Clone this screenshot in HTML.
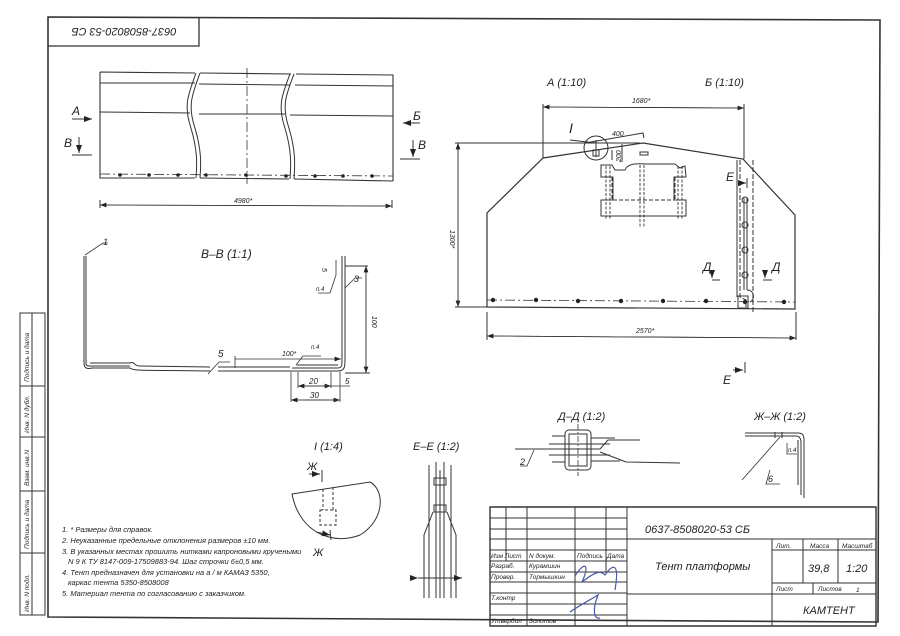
<!DOCTYPE html>
<html><head><meta charset="utf-8"><style>
html,body{margin:0;padding:0;background:#fff;}
svg{display:block;}
text{font-family:"Liberation Sans","Noto Sans CJK SC",sans-serif;font-style:italic;fill:#222;}
</style></head><body>
<svg width="900" height="636" viewBox="0 0 900 636" xmlns="http://www.w3.org/2000/svg">
<defs>
<marker id="ar" markerWidth="8" markerHeight="6" refX="8" refY="3" orient="auto"><path d="M0,0 L8,3 L0,6 z" fill="#222"/></marker>
</defs>
<g stroke="#333" fill="none" stroke-width="1">
<path d="M48,17 L880,20 L878,622 L48,617 Z" stroke-width="1.6"/>
<path d="M48,46 L199,46 L199,17" stroke-width="1.3"/>
<path d="M20,313 L45,313 L45,615 L20,615 Z M32,313 L32,615 M20,386 L45,386 M20,437 L45,437 M20,491 L45,491 M20,553 L45,553" stroke-width="1"/>

<path d="M100,72 L195,73 M200,73 L291,74 M296,74 L393,75 L393,181 M100,72 L100,178 L195,178 M200,178 L289,179 M294,179 L393,181" stroke-width="1.1"/>
<path d="M100,83 L195,83 M199,84 L290,85 M295,85 L393,86 M100,112 L190,113 M199,114 L285,114 M290,115 L393,116"/>
<path d="M196,73 C188,95 184,105 190,125 C198,150 197,165 196,178 M200,73 C192,95 188,105 194,125 C202,150 201,165 200,178" />
<path d="M290,74 C282,95 278,105 284,125 C292,150 291,165 290,179 M294,74 C286,95 282,105 288,125 C296,150 295,165 294,179" />
<path d="M247,68 L247,184" stroke-dasharray="10,3,2,3" stroke-width="0.8"/>
<path d="M100,174 L393,176" stroke-dasharray="10,3,2,3" stroke-width="0.8"/>
<path d="M100,200 L100,208 M392,200 L392,208"/>
<path d="M100,205 L392,206" stroke-width="0.8" marker-end="url(#ar)"/>
<path d="M392,206 L100,205" stroke-width="0.8" marker-end="url(#ar)"/>
<path d="M72,119 L92,119" marker-end="url(#ar)"/>
<path d="M79,137 L79,153" marker-end="url(#ar)"/>
<path d="M72,155 L92,155"/>
<path d="M420,123 L403,123" marker-end="url(#ar)"/>
<path d="M413,140 L413,157" marker-end="url(#ar)"/>
<path d="M400,159 L420,159"/>

<path d="M487,307 L487,213 L543,158 L643,143 L743,159 L795,215 L795,309 Z" stroke-width="1.2"/>
<path d="M543,158 L543,104 M744,159 L744,104"/>
<path d="M543,107 L744,108" stroke-width="0.8" marker-end="url(#ar)"/>
<path d="M744,108 L543,107" stroke-width="0.8" marker-end="url(#ar)"/>
<path d="M487,312 L487,340 M796,312 L796,340"/>
<path d="M487,336 L796,338" stroke-width="0.8" marker-end="url(#ar)"/>
<path d="M796,338 L487,336" stroke-width="0.8" marker-end="url(#ar)"/>
<path d="M455,143 L640,143 M455,307 L487,307"/>
<path d="M458,143 L458,307" stroke-width="0.8" marker-end="url(#ar)"/>
<path d="M458,307 L458,143" stroke-width="0.8" marker-end="url(#ar)"/>
<path d="M487,300 L795,302" stroke-dasharray="10,3,2,3" stroke-width="0.8"/>
<circle cx="596" cy="148" r="12"/>
<path d="M596,140 L596,157 M593,150 L599,150 L599,156 L593,156 Z"/>
<path d="M570,140 L596,143 M585,143 L643,133 L644,138"/>
<path d="M622,144 L622,162 M612,150 L612,160"/>
<path d="M601,165 L612,165 L615,170 L625,170 C628,162 640,164 648,164 L675,164 L680,168 L685,166 L686,177 L674,177 L674,200 L686,200 L686,216 L601,216 L601,200 L613,200 L613,177 L601,177 Z"/>
<path d="M613,200 L674,200 M612,177 L612,200 M675,177 L675,200" stroke-dasharray="4,2"/>
<path d="M606,166 L606,220 M610,166 L610,220 M640,165 L640,228 M644,165 L644,228 M678,166 L678,220 M682,166 L682,220" stroke-dasharray="3,1.5" stroke-width="0.9"/>
<path d="M640,152 L648,152 L648,155 L640,155 Z"/>
<path d="M740,160 L740,297 L746,300 L746,307 M753,160 L753,312" stroke-dasharray="5,2"/>
<path d="M737,160 L737,297"/>
<path d="M744,198 L744,290 M747,198 L747,290"/>
<circle cx="745" cy="200" r="3"/><circle cx="745" cy="225" r="3"/><circle cx="745" cy="250" r="3"/><circle cx="745" cy="275" r="3"/>
<path d="M747,290 C755,290 755,300 750,302"/>
<path d="M738,296 L748,296 L748,308 L738,308 Z"/>
<path d="M738,183 L746,183" marker-end="url(#ar)"/>
<path d="M747,178 L747,188"/>
<path d="M712,270 L712,278" marker-end="url(#ar)"/>
<path d="M712,280 L720,280 M763,280 L772,280"/>
<path d="M765,270 L765,278" marker-end="url(#ar)"/>
<path d="M733,370 L743,370" marker-end="url(#ar)"/>
<path d="M745,362 L745,373"/>

<path d="M84,256 L84,363 C84,369 88,369 92,368 L130,368 C133,371 140,370 210,371 M86,256 L86,364 C86,366 88,366 92,366 L130,366 M90,363 L130,363 C135,361 133,366 140,366 L210,367"/>
<path d="M218,371 L296,371 M218,367 L290,367"/>
<path d="M292,368 L338,368 C342,368 342,365 342,360 L342,256 M292,371 L338,371 C345,371 345,366 345,360 L345,256 M297,365 L338,365"/>
<path d="M85,255 L103,243 L108,243" stroke-width="0.8"/>
<path d="M345,288 L355,278 L362,278" stroke-width="0.8"/>
<path d="M208,374 L219,362 L230,362" stroke-width="0.8"/>
<path d="M296,365 L303,356 L321,356" stroke-width="0.8"/>
<path d="M336,275 L330,293 L318,293 M336,260 L336,275" stroke-width="0.8"/>
<path d="M345,266 L368,266 M345,373 L370,373"/>
<path d="M366,266 L366,373" stroke-width="0.8" marker-end="url(#ar)"/>
<path d="M366,373 L366,266" stroke-width="0.8" marker-end="url(#ar)"/>
<path d="M235,368 L235,356 M235,359 L341,359" stroke-width="0.8" marker-end="url(#ar)"/>
<path d="M298,372 L298,388 M291,372 L291,402 M331,372 L331,388 M340,372 L340,402" stroke-width="0.8"/>
<path d="M298,386 L331,386" stroke-width="0.8" marker-end="url(#ar)"/>
<path d="M331,386 L298,386" stroke-width="0.8" marker-end="url(#ar)"/>
<path d="M291,400 L340,400" stroke-width="0.8" marker-end="url(#ar)"/>
<path d="M340,400 L291,400" stroke-width="0.8" marker-end="url(#ar)"/>
<path d="M331,386 L350,386" stroke-width="0.8"/>

<path d="M292,494 L370,482 C385,490 385,520 360,535 C335,545 300,535 292,494 Z"/>
<path d="M323,489 L323,510 M333,487 L333,510 M320,510 L336,510 L336,525 L320,525 Z" stroke-dasharray="3,2"/>
<path d="M309,474 L320,474" marker-end="url(#ar)"/>
<path d="M322,470 L322,482 M330,530 L331,540"/>
<path d="M316,532 L330,535" marker-end="url(#ar)"/>

<path d="M429,465 L429,598 M451,465 L451,598 M436,462 L436,598 M444,462 L444,598 M440,470 L440,598"/>
<path d="M434,478 L446,478 L446,485 L434,485 Z M434,505 L446,505 L446,512 L434,512 Z"/>
<path d="M433,512 L424,535 L424,598 M447,512 L456,535 L456,598"/>
<path d="M418,578 L462,578" marker-start="url(#ar)" marker-end="url(#ar)"/>

<path d="M515,449 L600,449 L608,440 L640,440 M600,452 L626,462 L680,463"/>
<rect x="565" y="430" width="26" height="40" rx="4"/>
<rect x="569" y="434" width="18" height="32"/>
<path d="M549,444 L610,444 M549,455 L610,455 M552,436 L565,436 M552,462 L565,462 M591,438 L615,438 M591,461 L620,461"/>
<path d="M578,424 L578,476" stroke-dasharray="6,2,2,2" stroke-width="0.8"/>
<path d="M534,450 L527,466 L520,466" stroke-width="0.8"/>
<path d="M745,433 L798,433 C803,433 804,436 804,440 L804,498 M745,436 L796,436 C800,436 801,439 801,443 L801,495 M798,440 L798,485 M775,432 L775,438 M782,432 L782,438"/>
<path d="M742,480 L780,437 M770,470 L766,484 L780,484 M787,443 L787,454 L797,454" stroke-width="0.8"/>

<path d="M490,507 L876,507 L876,626 L490,626 Z" stroke-width="1.4"/>
<path d="M490,539 L876,539 M627,507 L627,626 M772,539 L772,626 M490,518 L627,518 M490,529 L627,529 M490,550 L627,550 M490,561 L627,561 M490,572 L627,572 M490,582 L627,582 M490,593 L627,593 M490,604 L627,604 M490,615 L627,615 M772,550 L876,550 M772,583 L876,583 M627,594 L876,594 M803,539 L803,583 M838,539 L838,583 M813,583 L813,594" stroke-width="1"/>
<path d="M506,507 L506,561 M527,507 L527,626 M575,507 L575,626 M606,507 L606,572" stroke-width="1"/>
</g>
<g fill="#222">
<circle cx="120" cy="175" r="1.8"/><circle cx="149" cy="175" r="1.8"/><circle cx="178" cy="175" r="1.8"/><circle cx="206" cy="175" r="1.8"/><circle cx="246" cy="175" r="1.8"/><circle cx="286" cy="176" r="1.8"/><circle cx="315" cy="176" r="1.8"/><circle cx="343" cy="176" r="1.8"/><circle cx="372" cy="176" r="1.8"/>
<circle cx="493" cy="300" r="2.2"/><circle cx="536" cy="300" r="2.2"/><circle cx="578" cy="301" r="2.2"/><circle cx="621" cy="301" r="2.2"/><circle cx="663" cy="301" r="2.2"/><circle cx="706" cy="301" r="2.2"/><circle cx="745" cy="302" r="2.2"/><circle cx="784" cy="302" r="2.2"/>
</g>
<g stroke="#4a5aa8" fill="none" stroke-width="1.2">
<path d="M575,576 C585,560 590,565 582,582 C595,572 600,570 605,575 C612,565 620,560 615,590"/>
<path d="M570,612 C580,605 590,600 598,595 C592,610 594,620 600,618"/>
</g>

<g font-size="10">
<text x="124" y="36" text-anchor="middle" transform="rotate(180 124 32)" font-size="11">0637-8508020-53 СБ</text>
<text x="72" y="115" font-size="12">А</text>
<text x="64" y="147" font-size="12">В</text>
<text x="413" y="120" font-size="12">Б</text>
<text x="418" y="149" font-size="12">В</text>
<text x="234" y="203" font-size="7">4980*</text>
<text x="547" y="86" font-size="11">А (1:10)</text>
<text x="705" y="86" font-size="11">Б (1:10)</text>
<text x="632" y="103" font-size="7">1680*</text>
<text x="636" y="333" font-size="7">2570*</text>
<text x="569" y="133" font-size="14">I</text>
<text x="612" y="136" font-size="7">400</text>
<text x="450" y="230" font-size="7" transform="rotate(90 450 230)">1300*</text>
<text x="621" y="162" font-size="7" transform="rotate(-90 621 162)">200</text>
<text x="726" y="181" font-size="12">Е</text>
<text x="703" y="271" font-size="12">Д</text>
<text x="772" y="271" font-size="12">Д</text>
<text x="723" y="384" font-size="12">Е</text>
<text x="201" y="258" font-size="12">В–В (1:1)</text>
<text x="103" y="245" font-size="9">1</text>
<text x="354" y="282" font-size="9">3</text>
<text x="218" y="357" font-size="10">5</text>
<text x="322" y="268" font-size="7" transform="rotate(90 322 268)">5</text>
<text x="316" y="291" font-size="6">п.4</text>
<text x="311" y="349" font-size="6">п.4</text>
<text x="282" y="356" font-size="7">100*</text>
<text x="372" y="316" font-size="7" transform="rotate(90 372 316)">100</text>
<text x="309" y="384" font-size="8">20</text>
<text x="345" y="384" font-size="8">5</text>
<text x="310" y="398" font-size="8">30</text>
<text x="314" y="450" font-size="11">I (1:4)</text>
<text x="307" y="470" font-size="11">Ж</text>
<text x="313" y="556" font-size="11">Ж</text>
<text x="413" y="450" font-size="11">Е–Е (1:2)</text>
<text x="558" y="420" font-size="11">Д–Д (1:2)</text>
<text x="520" y="465" font-size="9">2</text>
<text x="754" y="420" font-size="11">Ж–Ж (1:2)</text>
<text x="788" y="452" font-size="6">п.4</text>
<text x="768" y="482" font-size="9">6</text>
<g font-size="7.5">
<text x="62" y="532">1. * Размеры для справок.</text>
<text x="62" y="543">2. Неуказанные предельные отклонения размеров  ±10  мм.</text>
<text x="62" y="554">3. В указанных местах прошить нитками капроновыми кручеными</text>
<text x="68" y="564">N 9  К ТУ  8147-009-17509883-94.  Шаг строчки  6±0,5  мм.</text>
<text x="62" y="575">4.  Тент предназначен для установки на а / м КАМАЗ  5350,</text>
<text x="68" y="585">каркас тента  5350-8508008</text>
<text x="62" y="596">5.   Материал тента по согласованию с заказчиком.</text>
</g>
<g font-size="6.5">
<text x="29" y="382" transform="rotate(-90 29 382)">Подпись и дата</text>
<text x="29" y="433" transform="rotate(-90 29 433)">Инв. N дубл.</text>
<text x="29" y="486" transform="rotate(-90 29 486)">Взам. инв.N</text>
<text x="29" y="549" transform="rotate(-90 29 549)">Подпись и дата</text>
<text x="29" y="612" transform="rotate(-90 29 612)">Инв. N подл.</text>
<text x="491" y="558">Изм Лист</text>
<text x="529" y="558">N докум.</text>
<text x="577" y="558">Подпись</text>
<text x="607" y="558">Дата</text>
<text x="491" y="568">Разраб.</text>
<text x="529" y="568">Курамшин</text>
<text x="491" y="579">Провер.</text>
<text x="529" y="579">Тормышкин</text>
<text x="491" y="600">Т.контр</text>
<text x="491" y="623">Утвердил</text>
<text x="529" y="623">Золотов</text>
<text x="776" y="548">Лит.</text>
<text x="810" y="548">Масса</text>
<text x="842" y="548">Масштаб</text>
<text x="776" y="591">Лист</text>
<text x="818" y="591">Листов</text>
<text x="856" y="592">1</text>
</g>
<text x="645" y="533" font-size="11">0637-8508020-53 СБ</text>
<text x="655" y="570" font-size="11">Тент платформы</text>
<text x="808" y="572" font-size="11">39,8</text>
<text x="846" y="572" font-size="11">1:20</text>
<text x="803" y="614" font-size="11">КАМТЕНТ</text>
</g>
</svg>
</body></html>
